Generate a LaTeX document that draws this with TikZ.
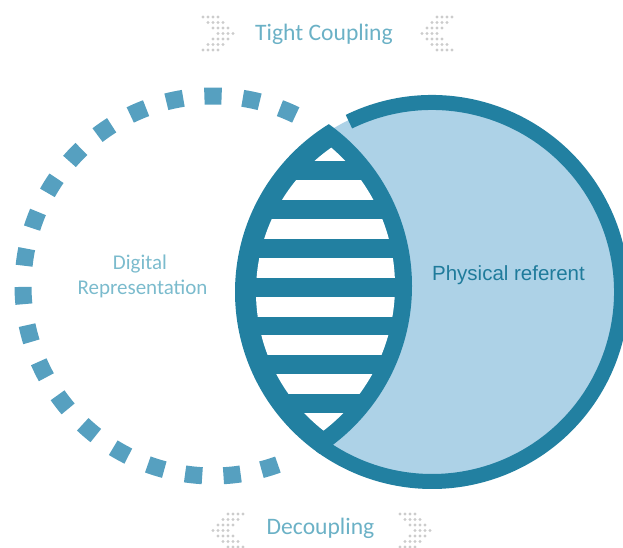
\documentclass[tikz,border=0pt]{standalone}
\usepackage{fontspec}
\newfontfamily\calfont{Carlito}
\newfontfamily\arialfont{Liberation Sans}
\definecolor{ringc}{HTML}{2280A1}
\definecolor{fillc}{HTML}{ADD2E7}
\definecolor{dashc}{HTML}{56A0C0}
\definecolor{tcolc}{HTML}{6BB1C6}
\definecolor{dcolc}{HTML}{7BBBCD}
\definecolor{pcolc}{HTML}{1F7B9B}
\definecolor{dotc}{HTML}{CCCCCC}
\tikzset{
  dashseg/.style={draw=dashc, line width=17pt},
  ringstroke/.style={draw=ringc, line width=15pt},
  dotfill/.style={fill=dotc},
  toplabel/.style={anchor=base, text=tcolc, font=\calfont\fontsize{23.6}{28}\selectfont},
  digilabel/.style={anchor=base, text=dcolc, font=\calfont\fontsize{21}{25}\selectfont},
  physlabel/.style={anchor=base, text=pcolc, font=\arialfont\fontsize{20.5}{24}\selectfont}
}
\begin{document}
\begin{tikzpicture}[x=1pt,y=1pt]
\useasboundingbox (0,0) rectangle (623,548);
% dashed circle (digital representation)
\foreach \k in {-2,...,17} {
  \pgfmathsetmacro{\a}{90+11.61*\k}
  \draw[dashseg] ([shift={(\a-2.6:190pt)}]213,262) arc[start angle=\a-2.6, end angle=\a+2.6, radius=190pt];
}
% physical referent circle
\fill[fillc] (432,256) circle[radius=191pt];
\draw[ringstroke] ([shift={(116:189.5pt)}]432,256) arc[start angle=116, end angle=-126, radius=189.5pt];
% lens
\begin{scope}
  \clip (213,262) circle[radius=199pt];
  \fill[ringc] (432,256) circle[radius=197pt];
\end{scope}
\begin{scope}
  \clip (213,262) circle[radius=182pt];
  \clip (432,256) circle[radius=176pt];
  \foreach \k in {0,...,7} {
    \fill[white] (200,{397-38.9*\k-10}) rectangle (450,{397-38.9*\k+10});
  }
\end{scope}
% chevrons of dots
\foreach \o [count=\r from 0] in {0,1,2,3,2,1,0} {
  \foreach \j in {0,...,3} {
    \fill[dotfill] ({203+5*(\o+\j)},{531-5.5*\r}) circle[radius=1.6pt];
    \fill[dotfill] ({437-5*\o+5*\j},{531-5.5*\r}) circle[radius=1.6pt];
    \fill[dotfill] ({228-5*\o+5*\j},{34-5.5*\r}) circle[radius=1.6pt];
    \fill[dotfill] ({400+5*(\o+\j)},{34-5.5*\r}) circle[radius=1.6pt];
  }
}
% labels
\node[toplabel] (tight) at (324,507.3) {Tight Coupling};
\node[toplabel] (decoup) at (320.5,13.7) {Decoupling};
\node[digilabel] (digi1) at (140,278) {Digital};
\node[digilabel] (digi2) at (142.5,253) {Representation};
\node[physlabel] (phys) at (508.5,267) {Physical referent};
\end{tikzpicture}
\end{document}
